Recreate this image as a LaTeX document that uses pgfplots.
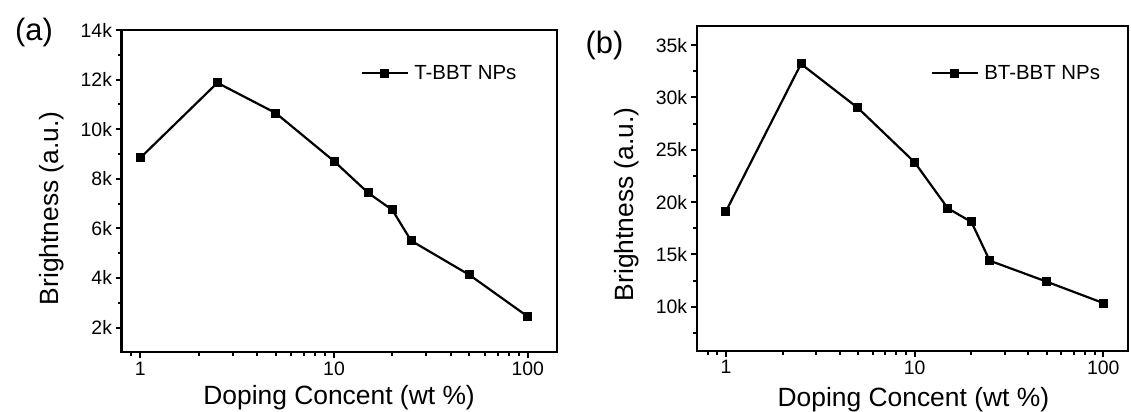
\documentclass[border=0pt]{standalone}
\usepackage{fontspec}
\setmainfont{Liberation Sans}
\usepackage{pgfplots}
\usepackage{pgfplotstable}
\pgfplotsset{compat=1.18}

\pgfplotstableread{
x y
1 8840
2.5 11870
5 10650
10 8710
15 7430
20 6740
25 5500
50 4120
100 2440
}\dataA

\pgfplotstableread{
x y
1 19120
2.5 33200
5 29000
10 23800
15 19400
20 18100
25 14400
50 12400
100 10350
}\dataB

\begin{document}
\begin{tikzpicture}
\useasboundingbox (0,0) rectangle (1131bp,412bp);
\begin{axis}[
  xmode=log,
  scale only axis,
  scaled y ticks=false,
  axis line style={line width=2.2bp},
  tick align=outside,
  major tick length=6bp,
  minor tick length=3.5bp,
  tick style={black, line width=2bp},
  xtick pos=bottom, ytick pos=left,
  xtick={1,10,100}, xticklabels={1,10,100},
  tick label style={font=\fontsize{19.5}{21}\selectfont},
  label style={font=\fontsize{26.5}{28}\selectfont},
  xlabel={Doping Concent (wt \%)},
  ylabel={Brightness (a.u.)},
  legend style={draw=none, fill=none, inner sep=0pt, column sep=5.5bp,
    font=\fontsize{20.5}{22}\selectfont, nodes={inner sep=0pt},
    at={(rel axis cs:0.549,0.866)}, anchor=west},
  legend image code/.code={
    \draw[mark repeat=2,mark phase=2] plot coordinates {(0bp,0bp) (23bp,0bp) (46bp,0bp)};
  },
  at={(121.5bp,59.7bp)}, anchor=south west,
  width=435.2bp, height=322.3bp,
  xmin=0.8, xmax=141, ymin=1000, ymax=14000,
  ytick={2000,4000,6000,8000,10000,12000,14000},
  yticklabels={2k,4k,6k,8k,10k,12k,14k},
  minor ytick={3000,5000,7000,9000,11000,13000},
  minor xtick={0.9,2,3,4,5,6,7,8,9,20,30,40,50,60,70,80,90},
  xlabel style={at={(axis description cs:0.5,-0.1635)}, anchor=base},
  ylabel style={at={(axis description cs:-0.161,0.447)}, anchor=center},
]
\addplot[black, line width=2.2bp, mark=square*, mark size=4bp, mark options={line width=1bp, solid}] table {\dataA};
\addlegendentry{T-BBT NPs}
\end{axis}
\node[font=\fontsize{31}{33}\selectfont] at (34bp,379bp) {(a)};

\begin{axis}[
  xmode=log,
  scale only axis,
  scaled y ticks=false,
  axis line style={line width=2.2bp},
  tick align=outside,
  major tick length=6bp,
  minor tick length=3.5bp,
  tick style={black, line width=2bp},
  xtick pos=bottom, ytick pos=left,
  xtick={1,10,100}, xticklabels={1,10,100},
  tick label style={font=\fontsize{19.5}{21}\selectfont},
  label style={font=\fontsize{26.5}{28}\selectfont},
  xlabel={Doping Concent (wt \%)},
  ylabel={Brightness (a.u.)},
  legend style={draw=none, fill=none, inner sep=0pt, column sep=5.5bp,
    font=\fontsize{20.5}{22}\selectfont, nodes={inner sep=0pt},
    at={(rel axis cs:0.5415,0.8537)}, anchor=west},
  legend image code/.code={
    \draw[mark repeat=2,mark phase=2] plot coordinates {(0bp,0bp) (23bp,0bp) (46bp,0bp)};
  },
  at={(696.7bp,61bp)}, anchor=south west,
  width=431.6bp, height=325.3bp,
  xmin=0.7, xmax=135.7, ymin=5770, ymax=36850,
  ytick={10000,15000,20000,25000,30000,35000},
  yticklabels={10k,15k,20k,25k,30k,35k},
  minor ytick={7500,12500,17500,22500,27500,32500},
  minor xtick={0.8,0.9,2,3,4,5,6,7,8,9,20,30,40,50,60,70,80,90},
  xlabel style={at={(axis description cs:0.502,-0.172)}, anchor=base},
  ylabel style={at={(axis description cs:-0.1615,0.451)}, anchor=center},
]
\addplot[black, line width=2.2bp, mark=square*, mark size=4bp, mark options={line width=1bp, solid}] table {\dataB};
\addlegendentry{BT-BBT NPs}
\end{axis}
\node[font=\fontsize{31}{33}\selectfont] at (604.5bp,366bp) {(b)};
\end{tikzpicture}
\end{document}
